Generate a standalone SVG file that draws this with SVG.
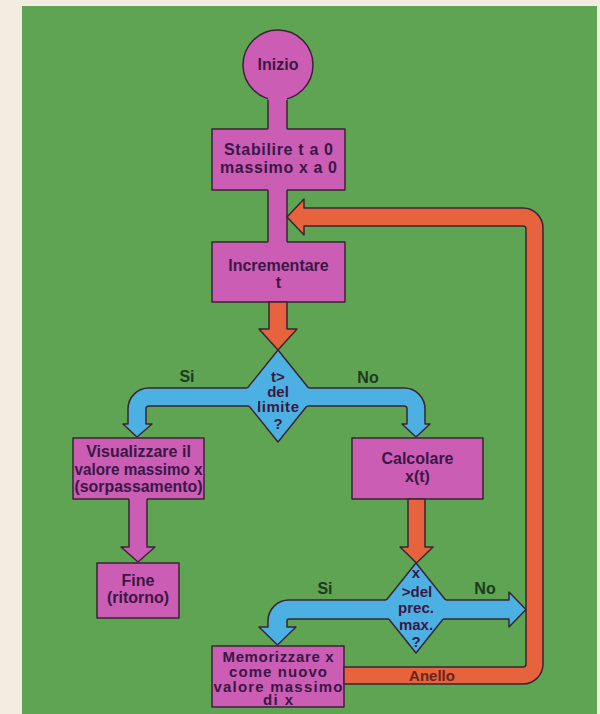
<svg xmlns="http://www.w3.org/2000/svg" width="600" height="714" viewBox="0 0 600 714">
<style>
.pk{fill:#cb5db5}
.bl{fill:#4cb1e2}
.or{fill:#e6633d}
.ol{stroke:#3a2436;stroke-width:1.5;stroke-linejoin:round}
.edge{fill:none;stroke:#3a2436;stroke-width:1.5;stroke-linejoin:round}
.t{font-family:"Liberation Sans",Arial,Helvetica,sans-serif;font-weight:bold;font-size:16px;fill:#3a1745;text-anchor:middle}
.s{font-size:15px}
.lbl{fill:#1e3a1c}
.an{fill:#6a2418;font-size:15px}
</style>
<rect x="0" y="0" width="600" height="714" fill="#f2ede0"/>
<rect x="22" y="6" width="575" height="708" fill="#5fa453"/>

<g id="inizio">
<circle class="pk ol" cx="278" cy="65" r="35"/>
<text class="t" x="278" y="70">Inizio</text>
</g>
<g id="stabilire">
<rect class="pk ol" x="212" y="129" width="133" height="61"/>
<text class="t" x="278.5" y="155" textLength="109" lengthAdjust="spacing">Stabilire t a 0</text>
<text class="t" x="278.5" y="173" textLength="117" lengthAdjust="spacing">massimo x a 0</text>
</g>
<g id="incrementare">
<rect class="pk ol" x="212" y="242" width="133" height="60"/>
<text class="t" x="278.5" y="271">Incrementare</text>
<text class="t" x="278.5" y="288">t</text>
</g>
<g id="limite">
<polygon class="bl ol" points="278,350 315,396 278,442 241,396"/>
<text class="t s" x="278" y="382">t&gt;</text>
<text class="t s" x="278" y="397">del</text>
<text class="t s" x="278" y="412" textLength="42" lengthAdjust="spacing">limite</text>
<text class="t s" x="278" y="429">?</text>
</g>
<g id="visualizzare">
<rect class="pk ol" x="73" y="438" width="131" height="61"/>
<text class="t" x="138.5" y="457">Visualizzare il</text>
<text class="t" x="138.5" y="475" textLength="128" lengthAdjust="spacingAndGlyphs">valore massimo x</text>
<text class="t" x="138.5" y="492" textLength="128" lengthAdjust="spacingAndGlyphs">(sorpassamento)</text>
</g>
<g id="calcolare">
<rect class="pk ol" x="352" y="438" width="131" height="61"/>
<text class="t" x="417.5" y="464">Calcolare</text>
<text class="t" x="417.5" y="482">x(t)</text>
</g>
<g id="fine">
<rect class="pk ol" x="97" y="563" width="82" height="55"/>
<text class="t" x="138" y="586">Fine</text>
<text class="t" x="138" y="603">(ritorno)</text>
</g>
<g id="precmax">
<polygon class="bl ol" points="416,563 452,608 416,653 380,608"/>
<text class="t s" x="416" y="578">x</text>
<text class="t s" x="417" y="597">&gt;del</text>
<text class="t s" x="416" y="613">prec.</text>
<text class="t s" x="416" y="630">max.</text>
<text class="t s" x="416" y="647">?</text>
</g>
<g id="memorizzare">
<rect class="pk ol" x="212" y="646" width="132" height="61"/>
<text class="t s" x="278" y="662" textLength="111" lengthAdjust="spacing">Memorizzare x</text>
<text class="t s" x="278" y="677" textLength="98" lengthAdjust="spacing">come nuovo</text>
<text class="t s" x="278" y="692" textLength="129" lengthAdjust="spacing">valore massimo</text>
<text class="t s" x="278" y="705" textLength="30" lengthAdjust="spacing">di x</text>
</g>

<g id="connectors">
<rect class="pk" x="268" y="95" width="19" height="38"/>
<path class="edge" d="M268,99.7 V129 M287,99.7 V129"/>
<rect class="pk" x="268" y="186" width="19" height="60"/>
<path class="edge" d="M268,190 V242 M287,190 V242"/>
<path class="or ol" d="M269,302 V329 H259 L278,350 L297,329 H287 V302 Z"/>
<path class="bl" d="M258,388 H149 A21,21 0 0 0 128,409 V424 H123 L137,437 L152,424 H146 V409 A3,3 0 0 1 149,406 H258 Z"/>
<path class="edge" d="M247.4,388 H149 A21,21 0 0 0 128,409 V424 H123 L137,437 L152,424 H146 V409 A3,3 0 0 1 149,406 H249"/>
<path class="bl" d="M298,388 H404 A21,21 0 0 1 425,409 V424 H430 L416,437 L402,424 H407 V409 A3,3 0 0 0 404,406 H298 Z"/>
<path class="edge" d="M308.6,388 H404 A21,21 0 0 1 425,409 V424 H430 L416,437 L402,424 H407 V409 A3,3 0 0 0 404,406 H307"/>
<path class="pk" d="M129,495 V547 H121 L138,562 L155,547 H147 V495 Z"/>
<path class="edge" d="M129,499 V547 H121 L138,562 L155,547 H147 V499"/>
<path class="or ol" d="M408,499 V547 H400 L416.5,563 L433,547 H425 V499 Z"/>
<path class="bl" d="M398,600 H289 A21,21 0 0 0 268,621 V627 H259 L277.5,645 L296,627 H287 V621 A2,2 0 0 1 289,619 H398 Z"/>
<path class="edge" d="M386.4,600 H289 A21,21 0 0 0 268,621 V627 H259 L277.5,645 L296,627 H287 V621 A2,2 0 0 1 289,619 H388.8"/>
<path class="bl" d="M434,600 H509 V592 L526,609.5 L509,627 V619 H434 Z"/>
<path class="edge" d="M445.6,600 H509 V592 L526,609.5 L509,627 V619 H443.2"/>
<path class="or ol" d="M344,667 H523 A3,3 0 0 0 526,664 V229 A3,3 0 0 0 523,226 H304 V235 L287,217 L304,199 V208 H523 A20,20 0 0 1 543,228 V664 A20,20 0 0 1 523,684 H344 Z"/>
<text class="t lbl" x="187" y="382">Si</text>
<text class="t lbl" x="368" y="383">No</text>
<text class="t lbl" x="325" y="594">Si</text>
<text class="t lbl" x="485" y="594">No</text>
<text class="t an" x="432" y="681">Anello</text>
</g>
</svg>
